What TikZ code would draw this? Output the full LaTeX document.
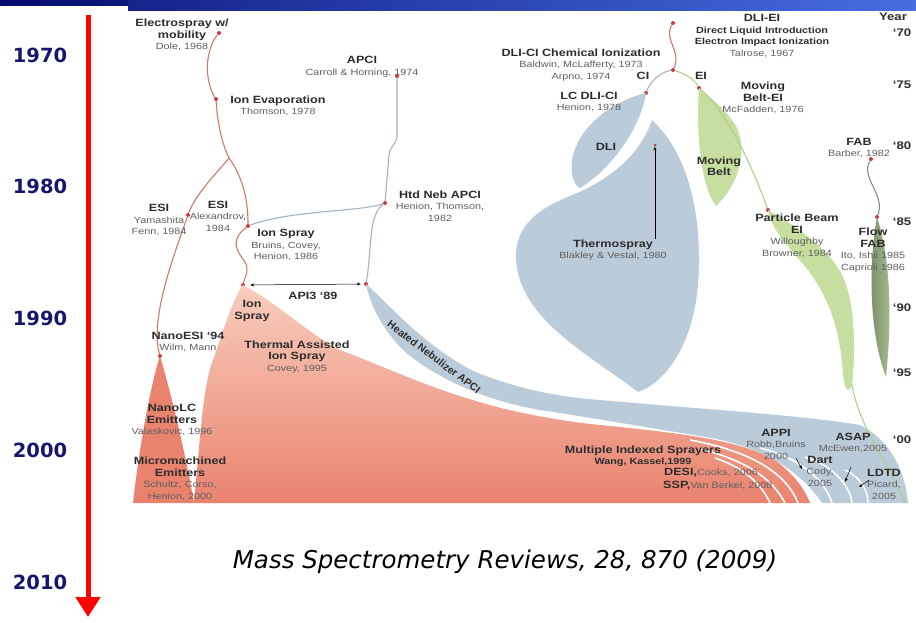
\documentclass[tikz,border=0pt]{standalone}
\usepackage{fontspec}
\setmainfont{Liberation Sans}
\newfontfamily\slidefont{DejaVu Sans}
\usepackage{tikz}
\usetikzlibrary{arrows.meta}

\definecolor{salmon}{RGB}{233,131,110}
\definecolor{salmonpale}{RGB}{248,205,190}
\definecolor{salmonline}{RGB}{214,118,102}
\definecolor{apcigray}{RGB}{186,204,217}
\definecolor{apciline}{RGB}{160,180,195}
\definecolor{beltgreen}{RGB}{198,223,160}
\definecolor{beltline}{RGB}{175,208,135}
\definecolor{fabdark}{RGB}{118,138,102}
\definecolor{fablight}{RGB}{172,192,148}
\definecolor{dotred}{RGB}{205,60,60}
\definecolor{navy}{RGB}{22,22,110}
\definecolor{textdark}{RGB}{45,45,45}
\definecolor{textgray}{RGB}{95,95,95}
\definecolor{barleft}{RGB}{5,10,110}
\definecolor{barright}{RGB}{70,110,225}

\newcommand{\nm}[1]{{\bfseries\fontsize{10.5}{11.5}\selectfont #1}}
\newcommand{\nms}[1]{{\bfseries\fontsize{9}{11.5}\selectfont #1}}
\newcommand{\rf}[1]{{\color{textgray}\fontsize{9}{11.5}\selectfont #1}}

\begin{document}
\begin{tikzpicture}[x=1pt,y=-1pt,
    dot/.style={circle,fill=dotred,inner sep=0pt,minimum size=4pt},
    txt/.style={align=center,text=textdark,inner sep=0pt,font=\fontsize{9}{11.5}\selectfont},
    lbl/.style={txt,xscale=1.2},
    yr/.style={text=textdark,inner sep=0pt,xscale=1.2,font=\bfseries\fontsize{11}{12}\selectfont},
    decade/.style={text=navy,inner sep=0pt,font=\slidefont\bfseries\fontsize{19.5}{20}\selectfont},
    esline/.style={draw=salmonline,line width=1.1pt},
    apline/.style={draw=apciline,line width=1.1pt},
    ebline/.style={draw=beltline,line width=1.1pt},
    streak/.style={draw=white,line width=1.6pt},
    ptr/.style={-{Stealth[length=4pt,width=3pt]},line width=0.5pt}]
    \useasboundingbox (0,0) rectangle (916,622);

    % Title bar
    \shade[left color=barleft, right color=barright] (0,0) rectangle (916,5);
    \shade[left color=barleft!75!barright, right color=barright] (128,0) rectangle (916,10);

    % Time axis
    \coordinate (tstart) at (88,15);
    \coordinate (tend) at (88,617);
    \draw[red, line width=5pt, -{Triangle[length=20pt,width=24pt]}] (tstart) -- (tend);
    \foreach \yr [count=\i from 0] in {1970,1980,1990,2000,2010} {
        \node[decade] (d\yr) at (40,{55+131.75*\i}) {\yr};
    }

    % Dots of the family tree
    \node[dot] (esm) at (219,33) {};
    \node[dot] (ievap) at (216,99) {};
    \node[dot] (esi) at (188,215) {};
    \node[dot] (ionspray) at (248,226) {};
    \node[dot] (isbase) at (243,285) {};
    \node[dot] (nano) at (160,356) {};
    \node[dot] (apci) at (397,76) {};
    \node[dot] (htdneb) at (385,203) {};
    \node[dot] (hneb) at (366,284) {};
    \node[dot] (dliei) at (673,23) {};
    \node[dot] (dlijn) at (673,70) {};
    \node[dot] (lcdli) at (646,93) {};
    \node[dot] (ei) at (699,88) {};
    \node[dot] (pb) at (768,210) {};
    \node[dot] (fab) at (871,159) {};
    \node[dot] (ffab) at (877,217) {};
    \coordinate (esisplit) at (229,158);

    % Electrospray regions
    \shade[top color=salmonpale, middle color=salmon, bottom color=salmon]
        (194,503) .. controls (200,440) and (203,385) .. (213,360)
        .. controls (222,335) and (232,300) .. (isbase.center)
        .. controls (280,305) and (310,335) .. (340,350)
        .. controls (380,365) and (430,388) .. (473,400)
        .. controls (510,412) and (560,421) .. (600,425)
        .. controls (680,433) and (740,440) .. (775,460)
        .. controls (795,475) and (805,490) .. (810,503) -- cycle;
    \fill[salmon] (nano.center) .. controls (152,380) and (140,440) .. (133,503)
        -- (194,503) .. controls (185,450) and (170,390) .. (nano.center);
    \draw[streak] (690,440) .. controls (745,450) and (785,470) .. (798,503);
    \draw[streak] (700,449) .. controls (745,460) and (772,478) .. (785,503);
    \draw[streak] (715,458) .. controls (745,468) and (762,485) .. (770,503);

    % APCI and DLI regions
    \fill[apcigray] (hneb.center) .. controls (385,300) and (420,343) .. (473,371)
        .. controls (520,390) and (560,397) .. (600,400)
        .. controls (700,409) and (800,415) .. (860,425)
        .. controls (890,440) and (905,470) .. (908,503)
        -- (822,503) .. controls (800,470) and (760,445) .. (700,436)
        .. controls (650,428) and (600,419) .. (540,410)
        .. controls (480,400) and (430,374) .. (403,350)
        .. controls (383,330) and (370,305) .. (hneb.center);
    \draw[streak] (760,448) .. controls (800,458) and (825,480) .. (832,503);
    \draw[streak] (805,457) .. controls (832,465) and (850,485) .. (852,503);
    \draw[streak] (845,470) .. controls (862,478) and (868,492) .. (868,503);
    \fill[apcigray] (lcdli.center) .. controls (615,100) and (578,125) .. (572,160)
        .. controls (570,175) and (574,185) .. (580,188)
        .. controls (610,170) and (640,130) .. (lcdli.center);
    \fill[apcigray] (652,120) .. controls (690,155) and (703,220) .. (698,285)
        .. controls (693,345) and (665,383) .. (638,392)
        .. controls (590,355) and (520,320) .. (516,260)
        .. controls (514,225) and (540,208) .. (570,196)
        .. controls (610,180) and (640,155) .. (652,120) -- cycle;

    % Moving belt, particle beam and FAB regions
    \fill[beltgreen] (ei.center) .. controls (696,130) and (700,185) .. (716,206)
        .. controls (738,185) and (747,155) .. (738,130)
        .. controls (728,110) and (710,98) .. (ei.center);
    \fill[beltgreen] (pb.center) .. controls (795,225) and (830,250) .. (842,275)
        .. controls (855,300) and (856,350) .. (852,385)
        .. controls (848,395) and (845,390) .. (843,375)
        .. controls (840,330) and (830,300) .. (808,270)
        .. controls (790,248) and (772,232) .. (pb.center);
    \coordinate (pbtail) at (852,385);
    \coordinate (pbend) at (905,503);
    \draw[ebline] (pbtail) .. controls (860,430) and (890,465) .. (pbend);
    \shade[left color=fabdark, right color=fablight] (ffab.center)
        .. controls (869,260) and (868,330) .. (886,377)
        .. controls (892,320) and (891,260) .. (ffab.center);

    % Branch lines
    \draw[esline] (esm) .. controls (205,50) and (204,80) .. (ievap);
    \draw[esline] (ievap) .. controls (218,130) and (224,148) .. (esisplit);
    \draw[esline] (esisplit) .. controls (215,175) and (195,195) .. (esi);
    \draw[esline] (esisplit) .. controls (245,180) and (248,205) .. (ionspray);
    \draw[esline] (esi) .. controls (172,260) and (150,320) .. (nano);
    \draw[esline] (ionspray) .. controls (230,240) and (236,250) .. (245,262)
        .. controls (250,270) and (244,280) .. (isbase);
    \draw[apline] (apci) -- (397,135) .. controls (397,145) and (390,145) .. (389,155) -- (htdneb);
    \draw[apline] (htdneb) .. controls (360,212) and (290,210) .. (ionspray);
    \draw[apline] (htdneb) .. controls (368,215) and (372,250) .. (hneb);
    \draw[esline] (dliei) .. controls (663,40) and (682,50) .. (dlijn);
    \draw[apline] (dlijn) .. controls (660,72) and (650,82) .. (lcdli);
    \draw[ebline] (dlijn) .. controls (686,74) and (695,80) .. (ei);
    \draw[ebline] (ei) .. controls (725,110) and (750,160) .. (pb);
    \draw[draw=fabdark, line width=1pt] (fab) .. controls (860,178) and (886,195) .. (ffab);

    % Labels
    \node[lbl] (esmL) at (182,35) {\nm{Electrospray w/}\\\nm{mobility}\\\rf{Dole, 1968}};
    \node[lbl] (ievapL) at (278,106) {\nm{Ion Evaporation}\\\rf{Thomson, 1978}};
    \node[lbl] (apciL) at (362,67) {\nm{APCI}\\\rf{Carroll \& Horning, 1974}};
    \node[lbl] (htdnebL) at (440,206) {\nm{Htd Neb APCI}\\\rf{Henion, Thomson,}\\\rf{1982}};
    \node[lbl] (dlicL) at (581,65) {\nm{DLI-CI Chemical Ionization}\\\rf{Baldwin, McLafferty, 1973}\\\rf{Arpno, 1974}};
    \node[lbl] (ciL) at (643,76) {\nm{CI}};
    \node[lbl] (eiL) at (701,76) {\nm{EI}};
    \node[lbl] (lcdliL) at (589,102) {\nm{LC DLI-CI}\\\rf{Henion, 1978}};
    \node[lbl] (dlieiL) at (762,36) {\nm{DLI-EI}\\\nms{Direct Liquid Introduction}\\\nms{Electron Impact Ionization}\\\rf{Talrose, 1967}};
    \node[lbl] (mbeiL) at (763,98) {\nm{Moving}\\\nm{Belt-EI}\\\rf{McFadden, 1976}};
    \node[lbl] (fabL) at (859,148) {\nm{FAB}\\\rf{Barber, 1982}};
    \node[lbl] (dliL) at (606,147) {\nm{DLI}};
    \node[lbl] (mbL) at (719,166) {\nm{Moving}\\\nm{Belt}};
    \node[lbl] (tsL) at (613,250) {\nm{Thermospray}\\\rf{Blakley \& Vestal, 1980}};
    \node[lbl] (pbL) at (797,236) {\nm{Particle Beam}\\\nm{EI}\\\rf{Willoughby}\\\rf{Browner, 1984}};
    \node[lbl] (ffabL) at (873,250) {\nm{Flow}\\\nm{FAB}\\\rf{Ito, Ishii 1985}\\\rf{Caprioli 1986}};
    \node[lbl] (esiaL) at (159,220) {\nm{ESI}\\\rf{Yamashita}\\\rf{Fenn, 1984}};
    \node[lbl] (esibL) at (218,216) {\nm{ESI}\\\rf{Alexandrov,}\\\rf{1984}};
    \node[lbl] (ionsprayL) at (286,245) {\nm{Ion Spray}\\\rf{Bruins, Covey,}\\\rf{Henion, 1986}};
    \node[lbl] (apiL) at (313,296) {\nm{API3 ‘89}};
    \node[lbl] (isbaseL) at (252,311) {\nm{Ion}\\\nm{Spray}};
    \node[lbl] (nanoL) at (188,342) {\nm{NanoESI ‘94}\\\rf{Wilm, Mann}};
    \node[lbl] (taisL) at (297,357) {\nm{Thermal Assisted}\\\nm{Ion Spray}\\\rf{Covey, 1995}};
    \node[lbl] (nlcL) at (172,420) {\nm{NanoLC}\\\nm{Emitters}\\\rf{Valaskovic, 1996}};
    \node[lbl] (mmL) at (180,479) {\nm{Micromachined}\\\nm{Emitters}\\\rf{Schultz, Corso,}\\\rf{Henion, 2000}};
    \node[txt, rotate=-37] (hnaL) at (434,357) {\nm{Heated Nebulizer APCI}};
    \node[lbl] (misL) at (643,456) {\nm{Multiple Indexed Sprayers}\\\nms{Wang, Kassel,1999}};
    \node[lbl, anchor=west] (desiL) at (664,473) {\nm{DESI,}\rf{Cooks, 2006}};
    \node[lbl, anchor=west] (sspL) at (663,486) {\nm{SSP,}\rf{Van Berkel, 2008}};
    \node[lbl] (appiL) at (776,444) {\nm{APPI}\\\rf{Robb,Bruins}\\\rf{2000}};
    \node[lbl] (asapL) at (853,443) {\nm{ASAP}\\\rf{McEwen,2005}};
    \node[lbl] (dartL) at (820,471) {\nm{Dart}\\\rf{Cody,}\\\rf{2005}};
    \node[lbl] (ldtdL) at (884,484) {\nm{LDTD}\\\rf{Picard,}\\\rf{2005}};

    % Arrows
    \node[dot, minimum size=3pt] (tsd) at (655,145) {};
    \draw[ptr] (tsL.north -| tsd) -- (tsd);
    \draw[{Stealth[length=4pt,width=3pt]}-{Stealth[length=4pt,width=3pt]}, line width=0.5pt,
        shorten <=5pt, shorten >=3pt] (isbase) -- (hneb);
    \coordinate (appiA) at (796,458); \coordinate (appiB) at (802,469);
    \coordinate (dartA) at (851,467); \coordinate (dartB) at (845,482);
    \coordinate (ldtdA) at (869,480); \coordinate (ldtdB) at (859,487);
    \draw[ptr] (appiA) -- (appiB);
    \draw[ptr] (dartA) -- (dartB);
    \draw[ptr] (ldtdA) -- (ldtdB);

    % Year column
    \node[yr] (yYear) at (893,17) {Year};
    \foreach \lab/\py in {70/33,75/85,80/146,85/222,90/308,95/373,00/440} {
        \node[yr] (y\lab) at (902,\py) {‘\lab};
    }

    % Source
    \node (ref) at (505,562) {\slidefont\itshape\fontsize{24.5}{26}\selectfont Mass Spectrometry Reviews, 28, 870 (2009)};
\end{tikzpicture}
\end{document}
